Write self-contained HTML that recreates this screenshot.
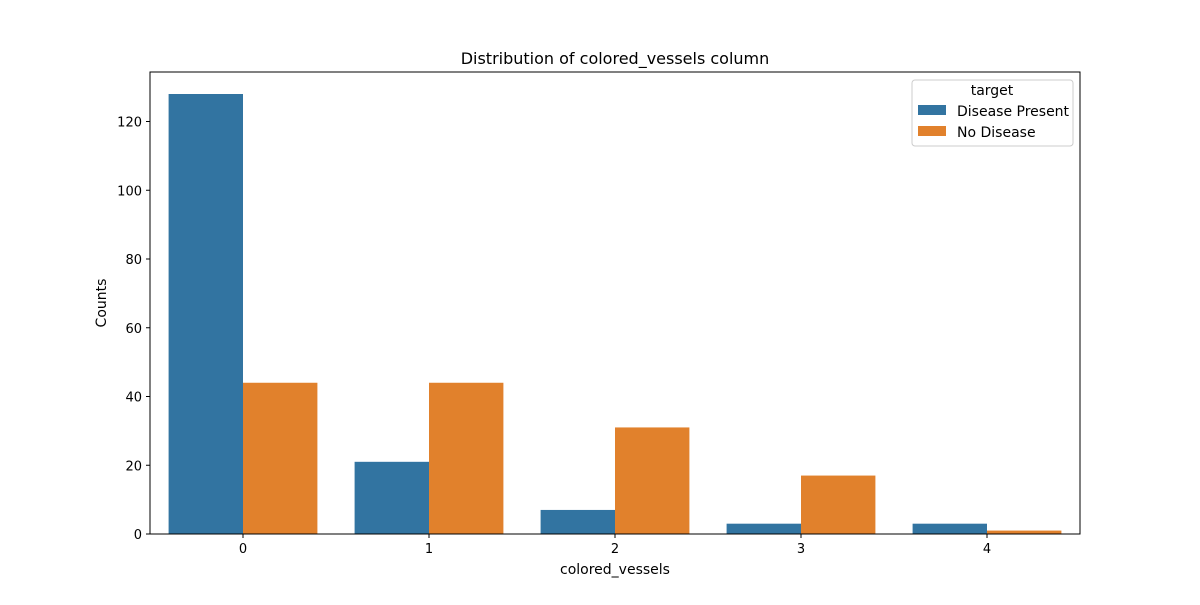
<!DOCTYPE html>
<html><head><meta charset="utf-8"><style>
body{margin:0;background:#fff;}
svg text{font-family:"DejaVu Sans","Liberation Sans",sans-serif;fill:#000;}
</style></head><body>
<svg id="chart" width="1200" height="600" xmlns="http://www.w3.org/2000/svg">
<rect width="1200" height="600" fill="#fff"/>
<text x="615" y="64" font-size="16" text-anchor="middle">Distribution of colored_vessels column</text>
<g id="bars"></g>
<g id="yticks"></g>
<g id="xticks"></g>
<rect x="150" y="72" width="930" height="462" fill="none" stroke="#000" stroke-width="1"/>
<text x="615" y="574" font-size="14" text-anchor="middle">colored_vessels</text>
<text transform="translate(106,303) rotate(-90)" font-size="14" text-anchor="middle">Counts</text>
<g>
<rect x="912" y="80" width="161" height="66" fill="#fff" fill-opacity="0.8" stroke="#ccc" rx="3"/>
<text x="992" y="95" font-size="14" text-anchor="middle">target</text>
<g><rect x="918" y="105" width="28" height="10" fill="#3274a1"/><text x="957" y="116" font-size="14">Disease Present</text></g>
<g><rect x="918" y="126" width="28" height="10" fill="#e1812c"/><text x="957" y="137" font-size="14">No Disease</text></g>
</g>
</svg>
<script>
const categories=["0","1","2","3","4"];
const diseasePresent=[128,21,7,3,3];
const noDisease=[44,44,31,17,1];
const yTicks=[0,20,40,60,80,100,120];
const NS="http://www.w3.org/2000/svg";
const L=150,R=1080,T=72,B=534,YMAX=134.4;
const step=(R-L)/categories.length;
const xC=i=>L+step*(i+0.5);
const y=v=>B-(v/YMAX)*(B-T);
const bw=step*0.4;
const bars=document.getElementById('bars');
function mk(tag,attrs,parent){const e=document.createElementNS(NS,tag);for(const k in attrs)e.setAttribute(k,attrs[k]);parent.appendChild(e);return e;}
categories.forEach((c,i)=>{
  const r1=mk('rect',{x:xC(i)-bw,y:y(diseasePresent[i]),width:bw,height:B-y(diseasePresent[i]),fill:'#3274a1'},bars);
  
  
  const r2=mk('rect',{x:xC(i),y:y(noDisease[i]),width:bw,height:B-y(noDisease[i]),fill:'#e1812c'},bars);
  
  
  const xt=document.getElementById('xticks');
  mk('line',{x1:xC(i),x2:xC(i),y1:B,y2:B+4,stroke:'#000'},xt);
  const t=mk('text',{x:xC(i),y:B+19,'font-size':13,'text-anchor':'middle'},xt);
  t.textContent=c;
  
  
});
const yt=document.getElementById('yticks');
yTicks.forEach(v=>{
  mk('line',{x1:L-4,x2:L,y1:y(v),y2:y(v),stroke:'#000'},yt);
  const t=mk('text',{x:L-8,y:y(v)+5,'font-size':13,'text-anchor':'end'},yt);
  t.textContent=v;
  
  
});
</script>
</body></html>
